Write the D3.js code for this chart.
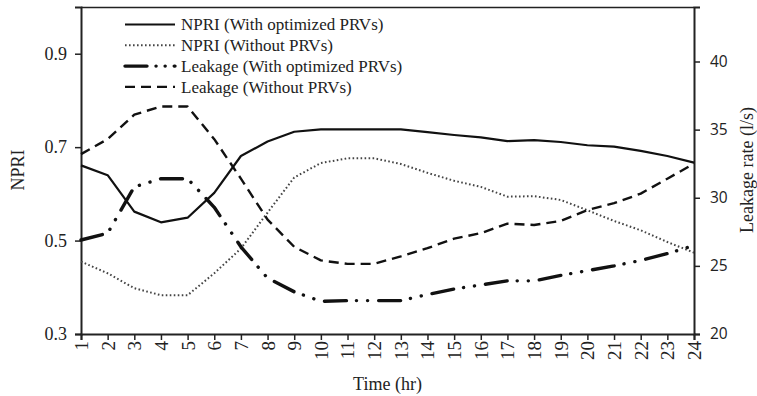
<!DOCTYPE html>
<html>
<head>
<meta charset="utf-8">
<script src="https://cdn.jsdelivr.net/npm/d3@7"></script>
<style>
body { margin: 0; background: #fff; }
svg { display: block; }
</style>
</head>
<body>
<svg id="chart" width="757" height="396"></svg>
<script>
const hours = [1,2,3,4,5,6,7,8,9,10,11,12,13,14,15,16,17,18,19,20,21,22,23,24];
const npriWith = [0.661,0.640,0.562,0.539,0.549,0.602,0.681,0.712,0.733,0.738,0.738,0.738,0.738,0.732,0.726,0.721,0.713,0.715,0.711,0.704,0.701,0.692,0.681,0.667];
const npriWithout = [0.455,0.430,0.398,0.383,0.383,0.430,0.483,0.560,0.635,0.666,0.676,0.676,0.664,0.645,0.628,0.615,0.594,0.595,0.587,0.565,0.542,0.522,0.497,0.474];
const leakWith = [26.9,27.4,30.8,31.4,31.4,29.3,26.4,24.1,23.1,22.4,22.45,22.45,22.45,22.9,23.3,23.6,23.9,23.9,24.3,24.65,25.0,25.4,25.9,26.5];
const leakWithout = [33.2,34.3,36.1,36.7,36.7,34.3,31.4,28.4,26.4,25.4,25.15,25.15,25.7,26.3,27.0,27.4,28.1,28.0,28.3,29.1,29.6,30.3,31.4,32.5];
const leftTicks = [0.3,0.5,0.7,0.9];
const rightTicks = [20,25,30,35,40];
const legendLabels = ["NPRI (With optimized PRVs)","NPRI (Without PRVs)","Leakage (With optimized PRVs)","Leakage (Without PRVs)"];

const svg = d3.select("#chart");
const m = {left: 81, right: 694, top: 7, bottom: 334};
const serif = "'Liberation Serif', 'Times New Roman', serif";
const sans = "'Open Sans', 'Liberation Sans', sans-serif";

const x = d3.scaleLinear().domain([1,24]).range([m.left, m.right]);
const yL = d3.scaleLinear().domain([0.3,1.0]).range([m.bottom, m.top]);
const yR = d3.scaleLinear().domain([20,44]).range([m.bottom, m.top]);

// frame top
svg.append("line").attr("x1", m.left).attr("x2", m.right).attr("y1", m.top+0.5).attr("y2", m.top+0.5)
  .attr("stroke", "#222").attr("stroke-width", 1.3);

// axes
const gl = svg.append("g").attr("transform", `translate(${m.left},0)`)
  .call(d3.axisLeft(yL).tickValues(leftTicks).tickFormat(d3.format(".1f")).tickSizeOuter(0).tickSize(6).tickPadding(8));
const gr = svg.append("g").attr("transform", `translate(${m.right},0)`)
  .call(d3.axisRight(yR).tickValues(rightTicks).tickSizeOuter(0).tickSize(6).tickPadding(10));
const gb = svg.append("g").attr("transform", `translate(0,${m.bottom})`)
  .call(d3.axisBottom(x).tickValues(hours).tickFormat(d3.format("d")).tickSizeOuter(0).tickSize(6));

[gl, gr, gb].forEach(g => {
  g.select(".domain").attr("stroke", "#222").attr("stroke-width", 2);
  g.selectAll(".tick line").attr("stroke", "#222").attr("stroke-width", 1.5);
  g.selectAll("text").attr("fill", "#222");
});
gl.selectAll("text").attr("font-family", serif).attr("font-size", 18);
gr.selectAll("text").attr("font-family", sans).attr("font-size", 15.5);
gb.selectAll("text").attr("font-family", serif).attr("font-size", 19)
  .attr("transform", "rotate(-90)").attr("text-anchor", "end")
  .attr("x", -7).attr("y", 0).attr("dy", "0.34em");

// titles
svg.append("text").attr("x", 387.5).attr("y", 390).attr("text-anchor", "middle")
  .attr("font-family", serif).attr("font-size", 18).attr("fill", "#222").text("Time (hr)");
svg.append("text").attr("transform", "translate(24,170) rotate(-90)").attr("text-anchor", "middle")
  .attr("font-family", serif).attr("font-size", 18).attr("fill", "#222").text("NPRI");
svg.append("text").attr("transform", "translate(753,170) rotate(-90)").attr("text-anchor", "middle")
  .attr("font-family", serif).attr("font-size", 18).attr("fill", "#222").text("Leakage rate (l/s)");

const styles = [
  {dash: null, width: 2.2, color: "#111", cap: "butt"},
  {dash: "1.6,2.4", width: 2, color: "#444", cap: "butt"},
  {dash: "22,10,0.1,11,0.1,11", width: 3.4, color: "#111", cap: "round"},
  {dash: "10,6", width: 2.4, color: "#111", cap: "butt"}
];
const series = [
  {vals: npriWith, y: yL},
  {vals: npriWithout, y: yL},
  {vals: leakWith, y: yR},
  {vals: leakWithout, y: yR}
];
const lineGen = (ys) => d3.line().x((d,i) => x(hours[i])).y(d => ys(d));

series.forEach((s, k) => {
  const st = styles[k];
  svg.append("path").datum(s.vals).attr("d", lineGen(s.y))
    .attr("fill", "none").attr("stroke", st.color).attr("stroke-width", st.width)
    .attr("stroke-dasharray", st.dash).attr("stroke-linecap", st.cap).attr("stroke-linejoin", "round");
});

// legend
const legY0 = 24.5, legDy = 20.8;
legendLabels.forEach((lab, k) => {
  const st = styles[k];
  const yy = legY0 + k*legDy;
  svg.append("line").attr("x1", 125).attr("x2", 175).attr("y1", yy).attr("y2", yy)
    .attr("stroke", st.color).attr("stroke-width", st.width)
    .attr("stroke-dasharray", k === 2 ? "22,9,0.1,9,0.1,9" : st.dash).attr("stroke-linecap", st.cap);
  svg.append("text").attr("x", 181).attr("y", yy).attr("dy", "0.35em")
    .attr("font-family", serif).attr("font-size", 17).attr("fill", "#222").text(lab);
});
</script>
</body>
</html>
